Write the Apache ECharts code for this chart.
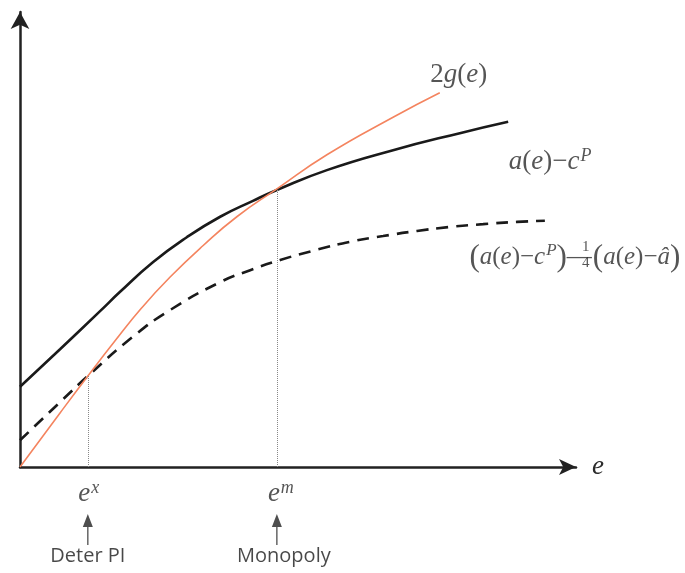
<!DOCTYPE html>
<html>
<head>
<meta charset="utf-8">
<title>Deter PI vs Monopoly</title>
<script src="https://cdn.jsdelivr.net/npm/echarts@6/dist/echarts.min.js"></script>
<style>
  html, body { margin: 0; padding: 0; background: #fff; }
  #main { width: 685px; height: 573px; }
</style>
</head>
<body>
<div id="main"></div>
<script>
// effort level e (x) and the three curves
var eA = [0, 0.72, 1.44, 1.80, 2.39, 3.00, 3.60, 4.19, 4.62, 5.52, 6.71, 7.91, 8.78]
var aMinusC = [1.41, 2.07, 2.74, 3.08, 3.60, 4.04, 4.40, 4.68, 4.87, 5.22, 5.57, 5.87, 6.07]

var eG = [0, 0.72, 1.22, 1.71, 2.19, 2.70, 3.29, 3.90, 4.62, 5.52, 6.71, 7.55]
var twoG = [0, 0.95, 1.60, 2.22, 2.80, 3.34, 3.89, 4.40, 4.89, 5.49, 6.15, 6.58]

var eD = [0, 0.72, 1.22, 2.03, 2.70, 3.60, 4.14, 4.68, 5.34, 5.94, 6.53, 7.14, 7.73, 8.33, 8.94, 9.44]
var deterCurve = [0.47, 1.14, 1.60, 2.29, 2.76, 3.25, 3.46, 3.64, 3.82, 3.96, 4.06, 4.15, 4.22, 4.27, 4.31, 4.33]

// the two marked effort levels, and where the pointer arrows sit below the axis
var eX = 1.22, eXval = 1.60
var eM = 4.62, eMval = 4.89
var arrowY = -1.1

function pairs (xs, ys) {
  return xs.map(function (x, i) { return [x, ys[i]] })
}

var ink = '#222'
var mathInk = '#2b2b2b'
var serif = 'Liberation Serif'
function mathStyle (size, italic) {
  return { fontFamily: serif, fontStyle: italic ? 'italic' : 'normal', fontSize: size, color: mathInk }
}
var mathRich = {
  it: mathStyle(27, true),
  rm: mathStyle(27, false),
  sup: Object.assign(mathStyle(18, true), { verticalAlign: 'top', padding: [0, 0, 12, 1] }),
  li: mathStyle(25, true),
  lr: mathStyle(25, false),
  lbig: mathStyle(31, false),
  lsup: Object.assign(mathStyle(17, true), { verticalAlign: 'top', padding: [0, 0, 12, 1] }),
  fn: Object.assign(mathStyle(15, false), { lineHeight: 16 })
}

function textPoint (x, y, text, dx, dy, align, extra) {
  var label = {
    show: true,
    position: 'inside',
    offset: [dx, dy],
    align: align || 'center',
    verticalAlign: 'middle',
    formatter: text,
    rich: mathRich
  }
  if (extra) Object.assign(label, extra)
  return { value: [x, y], label: label }
}

var lastA = eA.length - 1, lastG = eG.length - 1, lastD = eD.length - 1
var sans = { fontFamily: 'Open Sans', fontSize: 20, color: '#1a1a1a' }
var arrowPath = 'path://M5,0 L10,13 L5.65,13 L5.65,31 L4.35,31 L4.35,13 L0,13 Z'

var chart = echarts.init(document.getElementById('main'))
chart.setOption({
  animation: false,
  grid: { left: 20, right: 109, top: 12, bottom: 106 },
  xAxis: {
    type: 'value', min: 0, max: 10,
    name: 'e',
    nameLocation: 'end',
    nameGap: 16,
    nameTextStyle: { fontFamily: serif, fontStyle: 'italic', fontSize: 27, color: mathInk, padding: [30, 0, 0, 0] },
    axisLine: { lineStyle: { color: ink, width: 2.5 }, symbol: ['none', 'arrow'], symbolSize: [12, 17] },
    axisTick: { show: false },
    axisLabel: { show: false },
    splitLine: { show: false }
  },
  yAxis: {
    type: 'value', min: 0, max: 8,
    axisLine: { lineStyle: { color: ink, width: 2.5 }, symbol: ['none', 'arrow'], symbolSize: [14, 17] },
    axisTick: { show: false },
    axisLabel: { show: false },
    splitLine: { show: false }
  },
  series: [
    {
      name: 'a(e)-cP',
      type: 'line',
      data: pairs(eA, aMinusC),
      smooth: true,
      showSymbol: false,
      lineStyle: { color: '#1a1a1a', width: 2.6 }
    },
    {
      name: 'deter',
      type: 'line',
      data: pairs(eD, deterCurve),
      smooth: true,
      showSymbol: false,
      lineStyle: { color: '#1a1a1a', width: 2.6, type: [12, 8] }
    },
    {
      name: '2g(e)',
      type: 'line',
      data: pairs(eG, twoG),
      smooth: true,
      showSymbol: false,
      lineStyle: { color: '#f4845f', width: 1.6 }
    },
    {
      name: 'guides',
      type: 'line',
      data: [],
      markLine: {
        silent: true,
        animation: false,
        symbol: 'none',
        label: { show: false },
        lineStyle: { color: '#888', width: 1, type: 'dotted' },
        data: [
          [{ coord: [eX, 0] }, { coord: [eX, eXval] }],
          [{ coord: [eM, 0] }, { coord: [eM, eMval] }]
        ]
      }
    },
    {
      name: 'pointers',
      type: 'scatter',
      clip: false,
      silent: true,
      symbol: arrowPath,
      symbolSize: [10, 31],
      itemStyle: { color: ink },
      data: [[eX, arrowY], [eM, arrowY]]
    },
    {
      name: 'labels',
      type: 'scatter',
      symbolSize: 0,
      clip: false,
      silent: true,
      data: [
        textPoint(eG[lastG], twoG[lastG], '{rm|2}{it|g}{rm|(}{it|e}{rm|)}', 19, -18),
        textPoint(eA[lastA], aMinusC[lastA], '{it|a}{rm|(}{it|e}{rm|)−}{it|c}{sup|P}', 42, 40),
        textPoint(eD[lastD], deterCurve[lastD], '{lbig|(}{li|a}{lr|(}{li|e}{lr|)−}{li|c}{lsup|P}{lbig|)}{lr|—}', 47, 37, 'right'),
        textPoint(eD[lastD], deterCurve[lastD], '{lbig|(}{li|a}{lr|(}{li|e}{lr|)−}{li|â}{lbig|)}', 48, 37, 'left'),
        textPoint(eD[lastD], deterCurve[lastD], '{fn|1}\n{fn|4}', 41, 34),
        textPoint(eX, 0, '{it|e}{sup|x}', 1, 27),
        textPoint(eM, 0, '{it|e}{sup|m}', 4, 27),
        textPoint(eX, 0, 'Deter PI', 0, 89, 'center', sans),
        textPoint(eM, 0, 'Monopoly', 7, 89, 'center', sans)
      ]
    }
  ]
})
</script>
</body>
</html>
